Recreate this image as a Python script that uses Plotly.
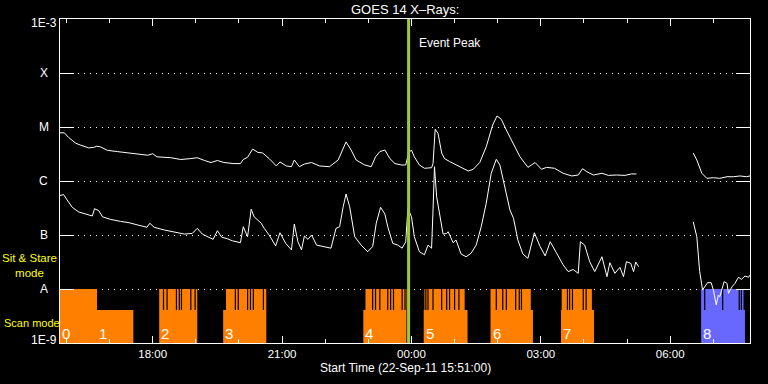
import numpy as np
import plotly.graph_objects as go

# ---------------- data ----------------
long_times = ["15:51","15:57","16:03","16:13","16:20","16:31","16:38","16:42","16:47","16:57",
              "17:11","17:25","17:39","17:53","18:00","18:06","18:25","18:39","18:53","19:02",
              "19:12","19:21","19:30","19:39","19:53","20:02","20:06","20:12","20:19","20:23",
              "20:26","20:33","20:42","20:52","20:57","21:06","21:13","21:17","21:24","21:31",
              "21:41","21:52","22:06","22:18","22:24","22:29","22:36","22:43","22:55","23:04",
              "23:10","23:16","23:23","23:30","23:37","23:46","23:52","23:56","00:00","00:04",
              "00:11","00:18","00:28","00:30","00:33","00:37","00:42","00:46","00:53","01:07",
              "01:19","01:26","01:35","01:44","01:53","01:59","02:05","02:12","02:21","02:31",
              "02:42","02:52","03:01","03:08","03:19","03:31","03:43","03:52","03:58","04:04",
              "04:13","04:25","04:34","04:45","04:57","05:06","05:13",None,
              "06:32","06:37","06:44","06:51","07:00","07:09","07:19","07:28","07:37","07:46","07:51"]
long_flux = [7.8e-6,7.8e-6,6.4e-6,5.0e-6,4.6e-6,4.1e-6,4.2e-6,4.4e-6,4.3e-6,3.7e-6,
             3.5e-6,3.3e-6,3.1e-6,3.0e-6,3.2e-6,2.8e-6,2.7e-6,2.5e-6,2.6e-6,2.7e-6,
             2.4e-6,2.2e-6,2.4e-6,2.2e-6,2.1e-6,2.1e-6,2.5e-6,2.75e-6,3.9e-6,3.6e-6,
             3.4e-6,3.3e-6,2.6e-6,1.9e-6,2.25e-6,1.9e-6,1.84e-6,2.45e-6,1.84e-6,2.06e-6,
             2.2e-6,1.9e-6,1.84e-6,2.45e-6,3.75e-6,5.3e-6,3.75e-6,2.45e-6,1.98e-6,1.84e-6,
             2.8e-6,3.5e-6,3.75e-6,2.6e-6,2.1e-6,1.98e-6,1.98e-6,3.3e-6,3.75e-6,2.8e-6,
             1.98e-6,1.72e-6,1.76e-6,2.1e-6,9.1e-6,7.6e-6,3.3e-6,2.6e-6,2.3e-6,1.84e-6,
             1.53e-6,1.65e-6,2.2e-6,4.3e-6,1.09e-5,1.6e-5,1.39e-5,8.8e-6,5.0e-6,2.8e-6,
             1.79e-6,2.2e-6,1.65e-6,1.79e-6,1.72e-6,1.39e-6,1.24e-6,1.29e-6,1.69e-6,1.49e-6,
             1.29e-6,1.39e-6,1.27e-6,1.29e-6,1.27e-6,1.35e-6,1.35e-6,None,
             3.3e-6,2.45e-6,1.39e-6,1.12e-6,1.15e-6,1.12e-6,1.2e-6,1.2e-6,1.24e-6,1.2e-6,1.24e-6]

short_times = ["15:51","15:56","16:01","16:08","16:17","16:27","16:36","16:39","16:45","16:50",
               "17:01","17:15","17:27","17:41","17:52","17:56","18:02","18:16","18:30","18:44",
               "18:55","19:02","19:09","19:18","19:24","19:30","19:36","19:44","19:51","20:02",
               "20:06","20:12","20:17","20:21","20:25","20:31","20:35","20:42","20:51","20:57",
               "21:05","21:13","21:17","21:22","21:27","21:31","21:36","21:41","21:48","21:57",
               "22:08","22:15","22:20","22:25","22:29","22:34","22:41","22:50","22:59","23:06",
               "23:11","23:17","23:23","23:27","23:34","23:41","23:47","23:52","23:55","00:00",
               "00:04","00:11","00:18","00:23","00:28","00:30","00:32","00:35","00:39","00:44",
               "00:49","00:51","00:58","01:02","01:09","01:16","01:23","01:30","01:37","01:44",
               "01:51","01:58","02:03","02:10","02:17","02:22","02:28","02:35","02:42","02:51",
               "02:59","03:06","03:13","03:22","03:31","03:38","03:45","03:52","03:55","04:01",
               "04:08","04:15","04:25","04:32","04:36","04:43","04:50","04:55","04:59","05:05",
               "05:09","05:12","05:16",None,
               "06:32","06:37","06:41","06:45","06:52","06:57","07:00","07:04","07:07","07:09",
               "07:15","07:19","07:21","07:26","07:30","07:35","07:39","07:44","07:49","07:51"]
short_flux = [5.4e-7,5.6e-7,4.45e-7,3.26e-7,2.67e-7,2.45e-7,2.25e-7,3.07e-7,2.82e-7,2.18e-7,
              1.95e-7,1.79e-7,1.69e-7,1.51e-7,1.39e-7,1.65e-7,1.39e-7,1.24e-7,1.14e-7,1.04e-7,
              1.07e-7,1.33e-7,1.04e-7,9.1e-8,8.3e-8,1.2e-7,9.1e-8,8.5e-8,7.8e-8,7.2e-8,
              1.42e-7,9.3e-8,3.0e-7,2.18e-7,1.95e-7,1.65e-7,1.33e-7,1.0e-7,6.3e-8,1.1e-7,
              7.0e-8,5.3e-8,1.6e-7,7.5e-8,5.3e-8,9.6e-8,8.3e-8,1.0e-7,6.5e-8,6.1e-8,
              5.7e-8,1.33e-7,1.42e-7,3.34e-7,5.74e-7,3.34e-7,9.3e-8,6.5e-8,4.9e-8,6.1e-8,
              1.65e-7,3.26e-7,2.45e-7,1.42e-7,7.0e-8,6.5e-8,5.7e-8,7.5e-8,3.1e-7,2.18e-7,
              9.3e-8,4.9e-8,4.3e-8,6.5e-8,5.7e-8,2.9e-7,1.84e-6,5.1e-7,2.35e-7,1.04e-7,
              1.07e-7,1.15e-7,7.2e-8,8.1e-8,4.45e-8,3.96e-8,4.6e-8,6.5e-8,1.42e-7,3.86e-7,
              1.39e-6,2.52e-6,1.98e-6,7.8e-7,2.9e-7,2.04e-7,8.1e-8,4.45e-8,3.7e-8,1.1e-7,
              6.1e-8,4.1e-8,7.5e-8,4.6e-8,2.8e-8,2.1e-8,2.3e-8,1.95e-8,7.5e-8,6.5e-8,
              3.2e-8,2.1e-8,3.96e-8,1.69e-8,3.07e-8,1.95e-8,2.52e-8,1.69e-8,3.2e-8,3.0e-8,
              2.1e-8,3.16e-8,2.6e-8,None,
              1.76e-7,9.3e-8,2.1e-8,9.6e-9,1.31e-8,1.31e-8,9.6e-9,5.1e-9,7.7e-9,7.2e-9,
              1.37e-8,1.27e-8,8.3e-9,1.1e-8,1.27e-8,1.65e-8,1.51e-8,1.74e-8,1.65e-8,1.82e-8]

# observing-mode blocks (0..8)
block_labels = ["0","1","2","3","4","5","6","7","8"]
block_start = ["15:51","16:42:30","18:09","19:38","22:53","00:17","01:50","03:28","06:43"]
block_end   = ["16:42:30","17:33","19:02","20:38","23:53","01:18","02:49","04:14","07:44"]
sit_start   = ["15:51",None,"18:09","19:42","22:56","00:18","01:50","03:29","06:43"]
sit_end     = ["16:42:30",None,"19:02","20:38","23:53","01:14","02:46","04:11","07:42"]
block_gaps  = [[], [],
               ["18:15","18:20","18:33","18:37","18:40","18:53","18:59"],
               ["19:55","19:59","20:12","20:16","20:20","20:34"],
               ["23:06","23:10","23:16","23:27","23:31","23:35","23:47","23:51"],
               ["00:20","00:23","00:30","00:42","00:49","00:53","01:00","01:06"],
               ["01:58","02:07","02:12","02:25","02:30","02:33"],
               ["03:37","03:40","03:44","03:59","04:03"],
               ["06:48","07:13","07:36","07:39"]]
block_kind  = ["orange"]*8 + ["blue"]

event_peak = "23:56"
x_start, x_end = "15:51", "07:51"
y_tick_vals = [1e-9, 1e-8, 1e-7, 1e-6, 1e-5, 1e-4, 1e-3]
y_tick_text = ["1E-9", "A", "B", "C", "M", "X", "1E-3"]

BASE, SCAN_LEVEL, SIT_LEVEL, LABEL_LEVEL = 1e-9, 4.1e-9, 1e-8, 1.52e-9
COLORS = {"orange": "#FF8000", "blue": "#6868FF"}


def ts(hm):
    if hm is None:
        return None
    h, m = int(hm[:2]), int(hm[3:5])
    s = int(hm[6:8]) if len(hm) > 5 else 0
    day = 22 if h >= 12 else 23
    return f"2011-09-{day} {h:02d}:{m:02d}:{s:02d}"


fig = go.Figure()

# mode blocks
for kind in ["orange", "blue"]:
    xs, ys = [], []
    for i in range(len(block_start)):
        if block_kind[i] != kind:
            continue
        a, b = ts(block_start[i]), ts(block_end[i])
        xs += [a, a, b, b, a, None]
        ys += [BASE, SCAN_LEVEL, SCAN_LEVEL, BASE, BASE, None]
        if sit_start[i]:
            a, b = ts(sit_start[i]), ts(sit_end[i])
            xs += [a, a, b, b, a, None]
            ys += [BASE, SIT_LEVEL, SIT_LEVEL, BASE, BASE, None]
    fig.add_trace(go.Scatter(x=xs, y=ys, mode="lines", fill="toself",
                             fillcolor=COLORS[kind], line=dict(width=0, color=COLORS[kind]),
                             hoverinfo="skip"))

gx, gy = [], []
for gl in block_gaps:
    for g in gl:
        gx += [ts(g), ts(g), None]
        gy += [SCAN_LEVEL, SIT_LEVEL, None]
fig.add_trace(go.Scatter(x=gx, y=gy, mode="lines", line=dict(color="black", width=1.2),
                         hoverinfo="skip"))

for tt, ff in [(long_times, long_flux), (short_times, short_flux)]:
    fig.add_trace(go.Scatter(x=[ts(t) for t in tt], y=ff, mode="lines",
                             line=dict(color="white", width=1), connectgaps=False))

# event peak
fig.add_shape(type="line", xref="x", yref="paper", x0=ts(event_peak), x1=ts(event_peak),
              y0=0, y1=1, line=dict(color="#9ACD32", width=3))

ann = []
ann.append(dict(x=ts(event_peak), y=0.926, xref="x", yref="paper", text="Event Peak",
                showarrow=False, xanchor="left", yanchor="middle", xshift=8,
                font=dict(size=12, color="white")))
for v, t in zip(y_tick_vals, y_tick_text):
    shift = -4 if v == 1e-3 else (3 if v == 1e-9 else 0)
    ann.append(dict(x=-0.0232, y=np.log10(v), xref="paper", yref="y", text=t,
                    showarrow=False, xanchor="center", yanchor="middle", yshift=shift,
                    font=dict(size=12, color="white")))
for lab, st in zip(block_labels, block_start):
    ann.append(dict(x=ts(st), y=np.log10(LABEL_LEVEL), xref="x", yref="y", text=lab,
                    showarrow=False, xanchor="left", yanchor="middle", xshift=0,
                    font=dict(size=15, color="white")))
ann.append(dict(x=-0.0435, y=0.239, xref="paper", yref="paper", text="Sit & Stare<br>mode",
                showarrow=False, xanchor="center", yanchor="middle", align="center",
                font=dict(size=11.5, color="#FFFF00")))
ann.append(dict(x=-0.0841, y=0.0617, xref="paper", yref="paper", text="Scan mode",
                showarrow=False, xanchor="left", yanchor="middle",
                font=dict(size=11, color="#FFFF00")))
ann.append(dict(x=0.5, y=1.028, xref="paper", yref="paper", text="GOES 14 X\u2013Rays:",
                showarrow=False, xanchor="center", yanchor="middle",
                font=dict(size=13, color="white")))
ann.append(dict(x=0.5, y=-0.077, xref="paper", yref="paper",
                text="Start Time (22-Sep-11 15:51:00)",
                showarrow=False, xanchor="center", yanchor="middle",
                font=dict(size=12, color="white")))

fig.update_layout(
    width=768, height=384, margin=dict(l=60, r=18, t=19, b=41, autoexpand=False),
    paper_bgcolor="black", plot_bgcolor="black", showlegend=False,
    font=dict(family="Liberation Sans", size=12, color="white"),
    annotations=ann,
    xaxis=dict(type="date", range=[ts(x_start), ts(x_end)], showgrid=False, zeroline=False,
               showline=True, linecolor="white", linewidth=1, mirror="ticks",
               ticks="inside", ticklen=7, tickcolor="white", tickwidth=1,
               dtick=3 * 3600000, tick0="2011-09-22 00:00:00", tickformat="%H:%M",
               tickfont=dict(size=11.5, color="white"),
               minor=dict(dtick=3600000, ticks="inside", ticklen=4, tickcolor="white")),
    yaxis=dict(type="log", range=[-9, -3], tickvals=y_tick_vals, showticklabels=False,
               ticks="inside", ticklen=14, tickcolor="white", tickwidth=1, mirror="ticks",
               showline=True, linecolor="white", linewidth=1, zeroline=False,
               showgrid=True, gridcolor="white", gridwidth=1, griddash="1px,5px"),
)

fig.write_html("out.html", config={"displayModeBar": False},
               post_script="document.body.style.margin='0';"
                           "document.body.style.background='black';")
